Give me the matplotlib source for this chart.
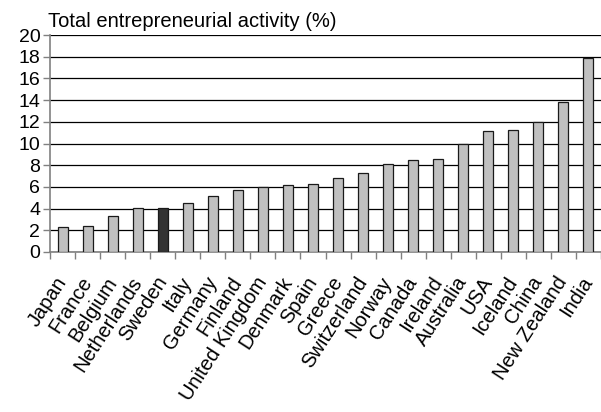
import matplotlib
matplotlib.use("Agg")
import matplotlib.pyplot as plt

countries = ["Japan", "France", "Belgium", "Netherlands", "Sweden", "Italy",
             "Germany", "Finland", "United Kingdom", "Denmark", "Spain",
             "Greece", "Switzerland", "Norway", "Canada", "Ireland",
             "Australia", "USA", "Iceland", "China", "New Zealand", "India"]
tea = [2.3, 2.4, 3.35, 4.05, 4.05, 4.55, 5.2, 5.7, 6.0, 6.2, 6.3,
       6.8, 7.3, 8.1, 8.5, 8.6, 9.95, 11.15, 11.25, 11.95, 13.8, 17.85]
highlight = "Sweden"
y_ticks = list(range(0, 21, 2))

plt.rcParams["font.family"] = ["Liberation Sans", "DejaVu Sans"]

fig = plt.figure(figsize=(6.01, 4.12), dpi=100)
ax = fig.add_axes([50 / 601, 160 / 412, 551 / 601, 217 / 412])

colors = ["#333333" if c == highlight else "#c0c0c0" for c in countries]
x = list(range(len(countries)))
ax.bar(x, tea, width=0.4, color=colors, edgecolor="#1a1a1a", linewidth=0.9, zorder=3)

ax.set_xlim(-0.5, len(countries) - 0.5)
ax.set_ylim(0, 20)
ax.set_yticks(y_ticks)
ax.set_yticklabels([str(v) for v in y_ticks], fontsize=14)
ax.yaxis.grid(True, color="black", linewidth=0.9, zorder=0)
ax.set_axisbelow(True)

# ticks sit between categories; labels centred on the bars
ax.set_xticks([i - 0.5 for i in x] + [len(x) - 0.5])
ax.set_xticklabels([])
ax.set_xticks(x, minor=True)
ax.set_xticklabels(countries, minor=True, rotation=57, ha="right",
                   va="center", rotation_mode="anchor", fontsize=14.5)
ax.tick_params(axis="x", which="minor", length=0, pad=19)
ax.tick_params(axis="x", which="major", length=5, color="#808080", width=1)
ax.tick_params(axis="y", length=5, color="#808080", width=1, pad=2)

for side in ["top", "right"]:
    ax.spines[side].set_visible(False)
ax.spines["left"].set_color("#808080")
ax.spines["bottom"].set_color("#808080")
ax.spines["left"].set_linewidth(1.2)
ax.spines["bottom"].set_linewidth(1.2)

fig.text(48 / 601, 1 - 27 / 412, "Total entrepreneurial activity (%)",
         fontsize=14.5, ha="left", va="baseline")

fig.savefig("out.png", dpi=100)
